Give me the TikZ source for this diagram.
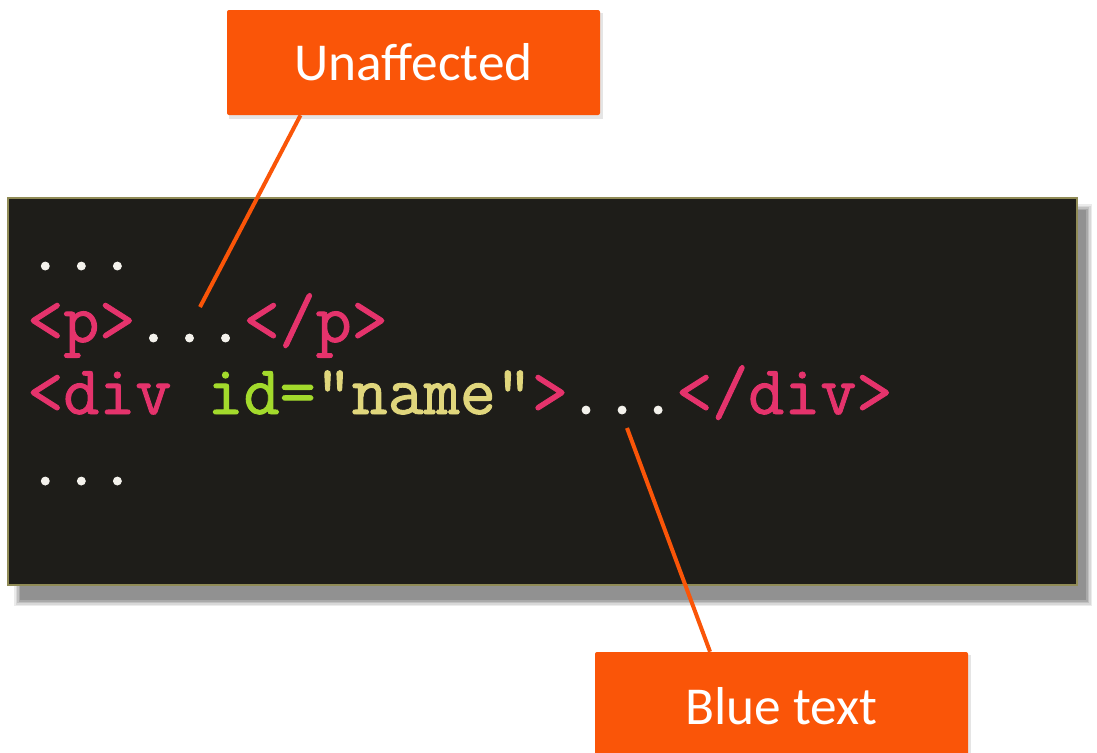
\documentclass[tikz,border=0pt]{standalone}
\usepackage{fontspec}
\setmainfont{Carlito}
\newfontfamily\codefont{Latin Modern Mono}[FakeBold=1.3]
\usetikzlibrary{calc}
\definecolor{orng}{HTML}{FA5508}
\definecolor{codebg}{HTML}{1E1D19}
\definecolor{cpink}{HTML}{E5336C}
\definecolor{cgreen}{HTML}{A3DA2C}
\definecolor{cyell}{HTML}{E0D67C}
\definecolor{cwhite}{HTML}{F4F2EC}
\tikzset{
  callout/.style={fill=orng, rounded corners=1.5pt, text=white, font=\fontsize{40}{42}\selectfont,
    minimum width=279.75pt, minimum height=78.75pt, inner sep=0pt},
  codeline/.style={anchor=base west, inner sep=0pt, font=\fontsize{52.5}{54}\codefont},
  leader/.style={draw=orng, line width=3pt}
}
\begin{document}
\begin{tikzpicture}[x=0.75pt,y=-0.75pt]
\useasboundingbox (0,0) rectangle (1097,753);
\clip (0,0) rectangle (1097,753);
\fill[white] (0,0) rectangle (1097,753);
% shadow of code box
\foreach \o/\a in {0/0.08,3/0.08,6/0.10,9/0.12,12/0.14}{
  \fill[black, opacity=\a] (14+\o/2,204+\o/2) rectangle (1092-\o/2,606-\o/2);
}
% code box
\node[fill=codebg, draw=gray!60!olive, line width=1pt, minimum width=801.75pt, minimum height=290.25pt, inner sep=0pt] (code) at (542.5,391.5) {};
% code lines
\node[codeline, text=cwhite] (l1) at (27,270) {...};
\node[codeline] (l2) at (27,342) {\textcolor{cpink}{<p>}\textcolor{cwhite}{...}\textcolor{cpink}{</p>}};
\node[codeline] (l3) at (27,414) {\textcolor{cpink}{<div }\textcolor{cgreen}{id=}\textcolor{cyell}{"name"}\textcolor{cpink}{>}\textcolor{cwhite}{...}\textcolor{cpink}{</div>}};
\node[codeline, text=cwhite] (l4) at (27,485) {...};
% callout shadows
\fill[black, opacity=0.10] (229,13) rectangle (603,119);
\fill[black, opacity=0.10] (597,655) rectangle (971,760);
% callouts
\node[callout] (unaff) at (413.5,62.5) {Unaffected};
\node[callout, minimum height=81pt] (blue) at (781.5,706) {Blue text};
% leaders
\coordinate (d1) at (200,307);
\coordinate (d2) at (627,428);
\draw[leader] ([xshift=-84.75pt]unaff.south) -- (d1);
\draw[leader] ([xshift=-53.6pt]blue.north) -- (d2);
\end{tikzpicture}
\end{document}
